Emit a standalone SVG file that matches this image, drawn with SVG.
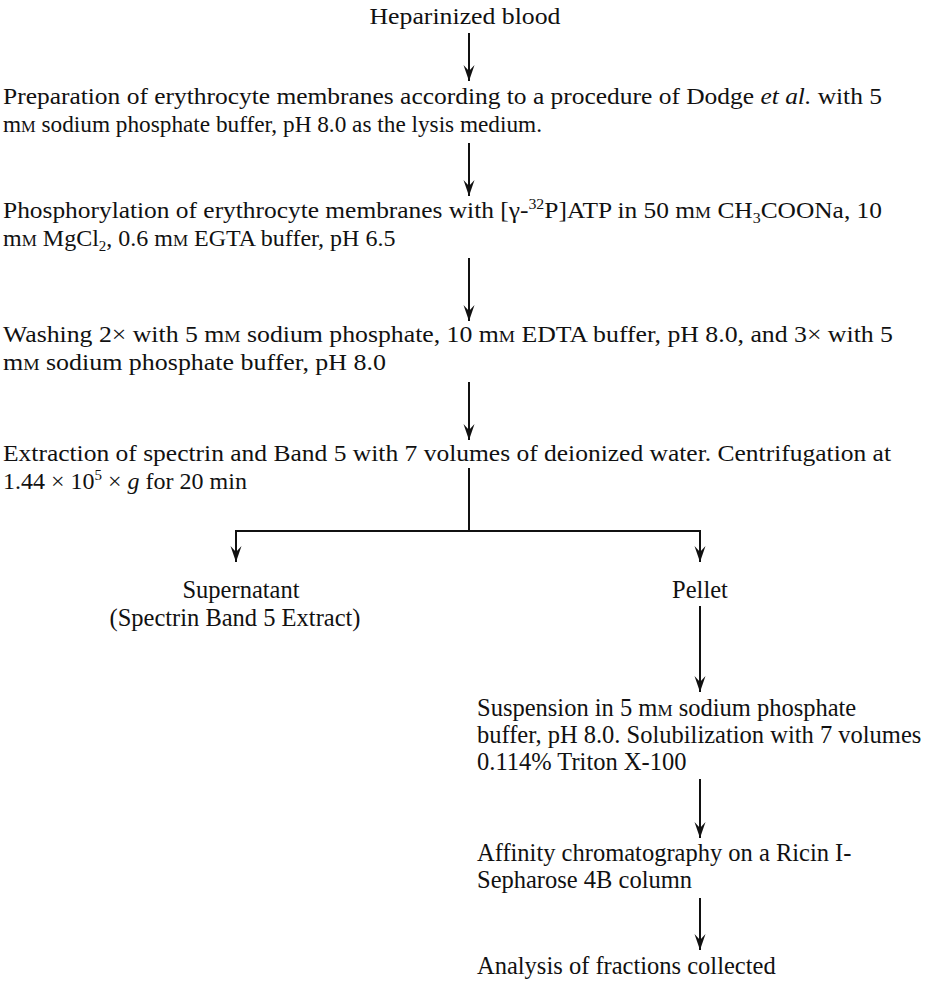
<svg xmlns="http://www.w3.org/2000/svg" width="927" height="987" viewBox="0 0 927 987">
<defs>
<style>
text{font-family:"Liberation Serif","Times New Roman",serif;font-size:24px;fill:#111;}
.r{font-size:24.5px;}
.sc{font-size:17px;}
.sub{font-size:15px;}
.c{text-anchor:middle;}
.ln{stroke:#111;stroke-width:2;fill:none;}
</style>
<marker id="ad" markerUnits="userSpaceOnUse" markerWidth="12" markerHeight="17" refX="6" refY="16" orient="0" viewBox="0 0 12 17">
<path d="M0.5,0 L6,16 L11.5,0 L6,6 Z" fill="#111"/>
</marker>
</defs>
<rect width="927" height="987" fill="#fff"/>
<g id="connectors">
<line class="ln" x1="469" y1="33" x2="469" y2="81" marker-end="url(#ad)"/>
<line class="ln" x1="469" y1="143" x2="469" y2="196" marker-end="url(#ad)"/>
<line class="ln" x1="469" y1="258" x2="469" y2="321" marker-end="url(#ad)"/>
<line class="ln" x1="469" y1="382" x2="469" y2="440" marker-end="url(#ad)"/>
<line class="ln" x1="469" y1="468" x2="469" y2="531"/>
<line class="ln" x1="236" y1="531" x2="700" y2="531" stroke-width="2.4"/>
<line class="ln" x1="236" y1="530" x2="236" y2="562" marker-end="url(#ad)"/>
<line class="ln" x1="700" y1="530" x2="700" y2="562" marker-end="url(#ad)"/>
<line class="ln" x1="700" y1="606" x2="700" y2="692" marker-end="url(#ad)"/>
<line class="ln" x1="700" y1="779" x2="700" y2="838" marker-end="url(#ad)"/>
<line class="ln" x1="700" y1="898" x2="700" y2="950" marker-end="url(#ad)"/>
</g>
<g id="n-blood"><text class="c" x="465" y="24" textLength="191" lengthAdjust="spacingAndGlyphs">Heparinized blood</text></g>
<g id="n-prep">
<text x="3" y="104" textLength="879" lengthAdjust="spacingAndGlyphs">Preparation of erythrocyte membranes according to a procedure of Dodge <tspan font-style="italic">et al.</tspan> with 5</text>
<text x="3" y="132" textLength="539" lengthAdjust="spacingAndGlyphs">m<tspan class="sc">M</tspan> sodium phosphate buffer, pH 8.0 as the lysis medium.</text>
</g>
<g id="n-phos">
<text x="3" y="218" textLength="879" lengthAdjust="spacingAndGlyphs">Phosphorylation of erythrocyte membranes with [γ-<tspan class="sub" dy="-9">32</tspan><tspan dy="9">P]ATP in 50 m</tspan><tspan class="sc">M</tspan> CH<tspan class="sub" dy="5">3</tspan><tspan dy="-5">COONa, 10</tspan></text>
<text x="3" y="246" font-size="22">m<tspan class="sc">M</tspan> MgCl<tspan class="sub" dy="5">2</tspan><tspan dy="-5">, 0.6 m</tspan><tspan class="sc">M</tspan> EGTA buffer, pH 6.5</text>
</g>
<g id="n-wash">
<text x="3" y="342" textLength="890" lengthAdjust="spacingAndGlyphs">Washing 2× with 5 m<tspan class="sc">M</tspan> sodium phosphate, 10 m<tspan class="sc">M</tspan> EDTA buffer, pH 8.0, and 3× with 5</text>
<text x="3" y="370" textLength="383" lengthAdjust="spacingAndGlyphs">m<tspan class="sc">M</tspan> sodium phosphate buffer, pH 8.0</text>
</g>
<g id="n-extr">
<text x="3" y="461" textLength="888" lengthAdjust="spacingAndGlyphs">Extraction of spectrin and Band 5 with 7 volumes of deionized water. Centrifugation at</text>
<text x="3" y="489" font-size="23">1.44 × 10<tspan class="sub" dy="-9">5</tspan><tspan dy="9"> × </tspan><tspan font-style="italic">g</tspan> for 20 min</text>
</g>
<g id="n-super">
<text class="c r" x="241" y="598">Supernatant</text>
<text class="c r" x="235" y="626">(Spectrin Band 5 Extract)</text>
</g>
<g id="n-pellet"><text class="c r" x="700" y="598">Pellet</text></g>
<g id="n-susp">
<text class="r" x="477" y="716">Suspension in 5 m<tspan class="sc">M</tspan> sodium phosphate</text>
<text class="r" x="477" y="743">buffer, pH 8.0. Solubilization with 7 volumes</text>
<text class="r" x="477" y="770">0.114% Triton X-100</text>
</g>
<g id="n-affin">
<text class="r" x="477" y="861">Affinity chromatography on a Ricin I-</text>
<text class="r" x="477" y="888">Sepharose 4B column</text>
</g>
<g id="n-anal"><text class="r" x="477" y="974">Analysis of fractions collected</text></g>
</svg>
